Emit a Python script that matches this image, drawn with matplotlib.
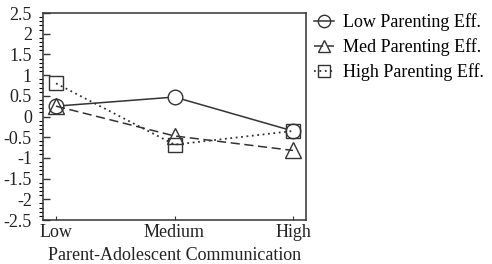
import matplotlib

matplotlib.use("Agg")
import matplotlib.pyplot as plt
from matplotlib.lines import Line2D
from matplotlib.ticker import MultipleLocator

categories = ["Low", "Medium", "High"]
low_eff = [0.25, 0.47, -0.35]
med_eff = [0.25, -0.47, -0.82]
high_eff = [0.80, -0.68, -0.35]

INK = "#333333"

plt.rcParams.update({"font.family": "Liberation Serif", "font.size": 13})
fig = plt.figure(figsize=(4.92, 2.64), dpi=100)
ax = fig.add_axes([43 / 492, 1 - 220 / 264, 263 / 492, 207 / 264])

x = range(len(categories))
styles = [
    ("Low Parenting Eff.", low_eff, "-", "o", 10.5, 1.1),
    ("Med Parenting Eff.", med_eff, (0, (6, 3)), "^", 11, 1.1),
    ("High Parenting Eff.", high_eff, (0, (1, 2)), "s", 10, 1.3),
]
handles = []
for label, vals, ls, mk, ms, lw in styles:
    ax.plot(x, vals, color=INK, lw=lw, ls=ls, marker=mk, ms=ms,
            mfc="white" if mk == "o" else "none", mec=INK, mew=1.0)
    handles.append(Line2D([], [], color=INK, lw=lw, ls=ls, marker=mk,
                          ms=ms * 0.85, mfc="none", mec=INK, mew=1.0,
                          label=label))

ax.set_xlim(-0.11, 2.11)
ax.set_ylim(-2.5, 2.5)
ax.set_xticks(list(x))
ax.set_xticklabels(categories)
ax.yaxis.set_major_locator(MultipleLocator(0.5))
ax.yaxis.set_minor_locator(MultipleLocator(0.1))
ax.yaxis.set_major_formatter(plt.FuncFormatter(lambda v, _: f"{v:g}"))
ax.tick_params(axis="both", direction="in", colors=INK, labelcolor="#222")
ax.tick_params(axis="y", which="major", length=5, width=1.0, pad=8)
ax.tick_params(axis="y", which="minor", length=3, width=0.8)
ax.tick_params(axis="x", length=3, pad=3)
for s in ax.spines.values():
    s.set_color(INK)
    s.set_linewidth(1.1)
ax.set_xlabel("Parent-Adolescent Communication", color="#222", labelpad=4)

fig.legend(handles=handles, loc="upper left",
           bbox_to_anchor=(298 / 492, 1 + 3 / 264),
           frameon=False, handlelength=1.1, handletextpad=0.5,
           labelspacing=0.4, fontsize=13)

fig.savefig("out.png", dpi=100)
